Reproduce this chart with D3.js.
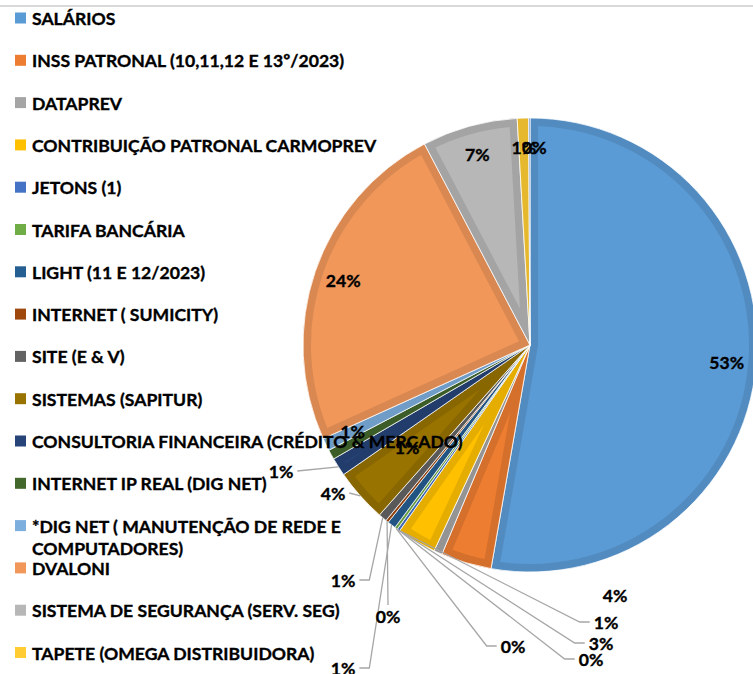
<!DOCTYPE html>
<html><head><meta charset="utf-8">
<script src="https://cdn.jsdelivr.net/npm/d3@7"></script>
<style>body{margin:0;background:#fff}svg{display:block}</style>
</head><body>
<svg id="chart" width="753" height="674"></svg>
<script>
const categories = [
  "SALÁRIOS",
  "INSS PATRONAL (10,11,12 E 13º/2023)",
  "DATAPREV",
  "CONTRIBUIÇÃO PATRONAL CARMOPREV",
  "JETONS (1)",
  "TARIFA BANCÁRIA",
  "LIGHT (11 E 12/2023)",
  "INTERNET ( SUMICITY)",
  "SITE (E & V)",
  "SISTEMAS (SAPITUR)",
  "CONSULTORIA FINANCEIRA (CRÉDITO & MERCADO)",
  "INTERNET IP REAL (DIG NET)",
  "*DIG NET ( MANUTENÇÃO DE REDE E COMPUTADORES)",
  "DVALONI",
  "SISTEMA DE SEGURANÇA (SERV. SEG)",
  "TAPETE (OMEGA DISTRIBUIDORA)",
  "OUTROS"
];
const values = [52.8, 3.6, 0.6, 2.8, 0.2, 0.2, 0.6, 0.2, 0.6, 3.8, 1.3, 0.7, 0.9, 24.1, 6.8, 0.8, 0.1];
const colors = ["#5B9BD5","#ED7D31","#A5A5A5","#FFC000","#4472C4","#70AD47","#255E91","#9E480E",
                "#636363","#997300","#264478","#43682B","#7CAFDD","#F1975A","#B7B7B7","#FFCD33","#698ED0"];

// label layout (offsets relative to pie centre, px)
const labelLayout = [
  {mode:"in"},
  {mode:"at", dx:85, dy:250},
  {mode:"lead", dx:76, dy:277, side:"left", anchor:4},
  {mode:"lead", dx:71, dy:298, side:"left", anchor:4},
  {mode:"lead", dx:61, dy:314, side:"left", anchor:4},
  {mode:"lead", dx:-17, dy:301, side:"left", anchor:5},
  {mode:"lead", dx:-187, dy:323, side:"right", anchor:6},
  {mode:"lead", dx:-142, dy:271, side:"top", anchor:7},
  {mode:"lead", dx:-187, dy:235, side:"right", anchor:8},
  {mode:"lead", dx:-197, dy:148, side:"right", anchor:9, stub:0},
  {mode:"lead", dx:-249, dy:126, side:"right", anchor:10, stub:0},
  {mode:"at", dx:-123, dy:102},
  {mode:"in"},
  {mode:"in"},{mode:"in"},{mode:"in"},{mode:"in", shift:5}
];

const FONT = "Lato, 'Open Sans', sans-serif";
const FS = 17.6;
const svg = d3.select("#chart");
const W = 753, H = 674;
const cx = 530, cy = 345, R = 227;

svg.append("line").attr("x1",0).attr("x2",W).attr("y1",6).attr("y2",6)
  .attr("stroke","#d9d9d9").attr("stroke-width",2);

const total = d3.sum(values);
const data = categories.map((c,i)=>({name:c, value:values[i], color:colors[i], i}));
const pie = d3.pie().sort(null).value(d=>d.value).startAngle(0).endAngle(2*Math.PI);
const arcs = pie(data);
const arc = d3.arc().innerRadius(0).outerRadius(R);

const defs = svg.append("defs");
const g = svg.append("g").attr("transform",`translate(${cx},${cy})`);

arcs.forEach((a,k)=>{
  defs.append("clipPath").attr("id","clip"+k)
    .append("path").attr("d",arc(a));
});
const slices = g.selectAll("g.slice").data(arcs).join("g").attr("class","slice");
slices.append("path")
  .attr("d",arc)
  .attr("fill",d=>d.data.color)
  .attr("stroke",d=>d3.color(d.data.color).darker(0.3))
  .attr("stroke-width",16)
  .attr("clip-path",(d,k)=>`url(#clip${k})`);
slices.append("path")
  .attr("d",arc)
  .attr("fill","none")
  .attr("stroke","#ffffff")
  .attr("stroke-width",0.8);

// labels
const labelArc = d3.arc().innerRadius(R*0.87).outerRadius(R*0.87);
const pct = v => Math.round(v/total*100) + "%";
const midA = a => (a.startAngle + a.endAngle)/2;
const edgePt = a => { const m = midA(a); return [R*Math.sin(m), -R*Math.cos(m)]; };

const leaders = g.append("g");
const labels = g.append("g");

arcs.forEach((a,k)=>{
  const L = labelLayout[k];
  let x, y;
  if (L.mode === "in") { [x,y] = labelArc.centroid(a); x += (L.shift||0); }
  else { x = L.dx; y = L.dy; }
  const t = labels.append("text")
    .attr("x",x).attr("y",y)
    .attr("text-anchor","middle").attr("dominant-baseline","central")
    .attr("font-family",FONT).attr("font-weight","bold").attr("font-size",FS)
    .attr("fill","#000").attr("stroke","#000").attr("stroke-width",0.35)
    .text(pct(a.data.value));
  if (L.mode === "lead") {
    const w = t.node().getComputedTextLength();
    const stub = L.stub === undefined ? 10 : L.stub;
    const start = edgePt(arcs[L.anchor]);
    let pts;
    if (L.side === "left") {
      const xe = x - w/2 - 4;
      pts = [start, [xe-stub, y], [xe, y]];
    } else if (L.side === "right") {
      const xe = x + w/2 + 4;
      pts = [start, [xe+stub, y], [xe, y]];
    } else {
      pts = [start, [x, y-11]];
    }
    leaders.append("path")
      .attr("d", d3.line()(pts))
      .attr("fill","none").attr("stroke","#a6a6a6").attr("stroke-width",1.3);
  }
});

// legend (entries past the bottom edge are cropped, as in the reference)
const legend = svg.append("g");
const step = 42.3, y0 = 18, maxW = 440;
data.forEach((d,i)=>{
  const yc = y0 + i*step;
  if (yc > H) return;
  legend.append("rect").attr("x",15).attr("y",yc-5.5).attr("width",11).attr("height",11)
    .attr("fill",d.color);
  const t = legend.append("text").attr("x",32).attr("y",yc)
    .attr("dominant-baseline","central")
    .attr("font-family",FONT).attr("font-weight","bold").attr("font-size",FS)
    .attr("fill","#000").attr("stroke","#000").attr("stroke-width",0.35);
  const words = d.name.split(" ");
  let line = [], ln = 0;
  let ts = t.append("tspan").attr("x",32).attr("y",yc);
  words.forEach(wd=>{
    line.push(wd);
    ts.text(line.join(" "));
    if (ts.node().getComputedTextLength() > maxW && line.length > 1) {
      line.pop(); ts.text(line.join(" "));
      line = [wd]; ln++;
      ts = t.append("tspan").attr("x",32).attr("y",yc + ln*22).text(wd);
    }
  });
});
</script>
</body></html>
